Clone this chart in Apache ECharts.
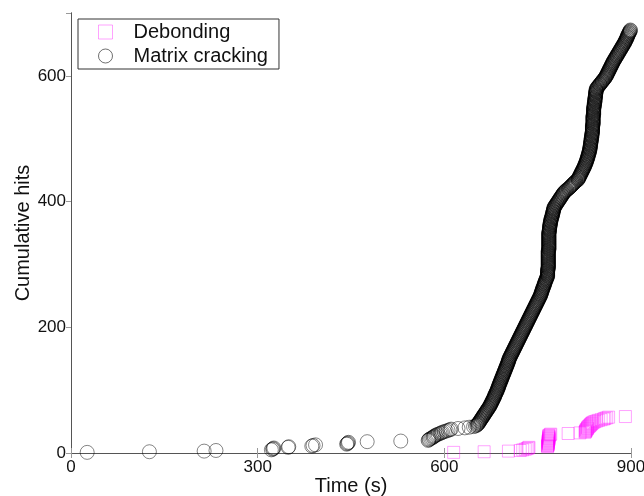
<!DOCTYPE html>
<html>
<head>
<meta charset="utf-8">
<script src="https://cdn.jsdelivr.net/npm/echarts@6/dist/echarts.min.js"></script>
<style>
html,body{margin:0;padding:0;background:#fff;}
#c{width:644px;height:496px;}
</style>
</head>
<body>
<div id="c"></div>
<script>
// Series names
var seriesNames = ['Debonding', 'Matrix cracking'];
// Axis tick labels
var xTicks = [0, 300, 600, 900];
var yTicks = [0, 200, 400, 600];

// Debonding: time (s) of each hit, in order (hit n has cumulative count n)
var debondingTimes = [
  615,664,703,722,726,730,733,735,736,
  766,766,766,767,767,767,767,767,767,767,767,768,768,768,768,768,768,768,768,
  770,771,799,818,
  826,827,827,828,828,829,830,830,831,832,833,834,835,836,837,838,840,842,845,848,852,856,
  858,861,864,891
];

// Matrix cracking: time (s) of each hit, in order (hit n has cumulative count n)
var matrixTimes = [
  26,126,214,233,322,324,325,326,349,350,
  387,389,393,443,444,445,446,476,530,574,
  575,576,578,580,582,583,584,586,588,590,
  593,595,597,600,603,606,609,611,622,633,
  640,647,650,652,653,
  654,655,655,656,657,657,658,659,659,660,
  661,661,662,663,663,664,665,665,666,667,
  667,668,669,669,670,671,671,672,673,
  673,674,674,675,675,676,676,677,677,678,
  678,679,679,680,680,681,681,681,682,682,
  683,683,684,684,685,685,685,686,686,687,687,687,
  688,688,688,689,689,690,690,690,691,691,
  692,692,692,693,693,694,694,694,695,695,
  696,696,696,697,697,698,698,698,699,699,
  700,700,700,701,701,702,702,702,703,703,703,704,704,704,
  705,705,706,706,707,707,708,708,709,709,
  710,710,711,711,712,712,713,713,714,714,
  715,715,716,716,717,717,718,718,719,719,720,720,
  721,721,722,722,723,723,724,724,725,725,
  726,726,727,727,728,728,729,729,730,730,
  731,731,732,732,733,733,734,734,735,735,
  736,736,737,737,738,738,
  739,739,740,740,741,741,742,742,743,743,
  744,744,745,745,746,746,747,747,748,748,
  749,749,750,750,751,751,752,752,753,753,754,754,
  755,755,755,756,756,756,757,757,757,758,
  758,758,759,759,760,760,760,761,761,761,
  762,762,762,763,763,764,764,764,765,765,766,766,
  766,766,766,766,766,766,766,766,766,766,
  767,767,767,767,767,767,767,767,767,767,
  767,767,767,767,767,767,767,767,767,767,
  767,767,767,767,767,767,767,767,767,767,
  768,768,768,768,768,768,768,768,768,768,
  768,768,768,768,768,768,768,768,768,768,
  768,768,768,768,768,768,768,768,
  768,768,769,769,769,769,769,769,769,769,
  770,770,770,770,770,770,771,771,771,771,
  771,772,772,772,773,773,773,773,774,774,
  774,774,775,775,775,775,776,776,776,776,
  777,777,778,779,779,780,781,781,782,783,
  783,784,785,785,786,787,787,788,789,789,
  790,791,791,792,
  793,794,795,796,797,799,800,801,802,803,
  804,805,806,807,808,809,810,811,812,814,815,
  815,816,816,817,817,818,818,819,819,820,
  820,821,821,822,822,823,823,824,824,825,
  825,826,826,826,827,827,828,828,
  828,829,829,829,830,830,830,831,831,831,
  831,832,832,832,833,833,833,833,834,834,
  834,834,834,834,835,835,835,835,835,835,
  835,836,836,836,836,836,836,836,837,837,
  837,837,837,837,837,838,838,838,
  838,838,838,838,838,838,838,838,838,838,
  839,839,839,839,839,839,839,839,839,839,839,839,839,839,839,839,
  840,840,840,840,840,840,840,840,840,840,
  840,840,840,841,841,841,841,841,841,841,
  842,842,842,842,842,842,842,842,843,843,
  843,843,843,843,843,843,844,844,844,844,844,844,
  845,846,846,847,848,849,850,850,851,852,
  853,854,854,855,856,857,858,858,859,860,
  860,861,861,862,862,863,863,864,864,865,
  865,866,866,867,867,868,868,869,869,870,
  870,871,871,872,872,873,874,874,875,875,876,877,
  877,878,878,879,880,880,881,881,882,883,
  883,884,884,885,886,886,887,887,888,889,
  889,890,890,891,891,892,892,893,893,894,
  894,894,895,895,896,896,897,897,898,898,899,899
];

function cumulative(times) {
  var out = [];
  for (var i = 0; i < times.length; i++) out.push([times[i], i + 1]);
  return out;
}

var FONT = 'Liberation Sans, Arial, Helvetica, sans-serif';
var chart = echarts.init(document.getElementById('c'), null, {renderer: 'canvas'});

chart.setOption({
  animation: false,
  backgroundColor: '#fff',
  grid: {left: 71, right: 13, top: 13, bottom: 43, containLabel: false, outerBoundsMode: 'none'},
  legend: {
    orient: 'vertical',
    left: 78, top: 19,
    padding: [1, 11, 1, 20],
    itemGap: 0,
    itemWidth: 14,
    itemHeight: 14,
    backgroundColor: '#fff',
    borderColor: '#333',
    borderWidth: 1,
    textStyle: {fontFamily: FONT, fontSize: 20, color: '#111', lineHeight: 24, padding: [0, 0, 0, 16]},
    data: [
      {name: seriesNames[0], icon: 'rect', itemStyle: {color: 'rgba(0,0,0,0)', borderColor: 'rgba(255,0,255,0.45)', borderWidth: 1}},
      {name: seriesNames[1], icon: 'circle', itemStyle: {color: 'rgba(0,0,0,0)', borderColor: 'rgba(0,0,0,0.7)', borderWidth: 1}}
    ]
  },
  xAxis: [{
    type: 'value', min: xTicks[0], max: xTicks[xTicks.length - 1], interval: 300,
    name: 'Time (s)', nameLocation: 'middle', nameGap: 23, nameMoveOverlap: false,
    nameTextStyle: {fontFamily: FONT, fontSize: 20, color: '#111'},
    axisLine: {show: true, lineStyle: {color: '#555', width: 1}},
    axisTick: {show: true, inside: true, length: 5, lineStyle: {color: '#999'}},
    axisLabel: {fontFamily: FONT, fontSize: 17, color: '#111', margin: 6},
    splitLine: {show: false}
  }, {
    type: 'value', position: 'top', min: 0, max: 900, interval: 300,
    axisLine: {show: true, lineStyle: {color: '#555', width: 1}},
    axisTick: {show: true, inside: true, length: 5, lineStyle: {color: '#999'}},
    axisLabel: {show: false}, splitLine: {show: false}
  }],
  yAxis: [{
    type: 'value', min: yTicks[0], max: 700, interval: 200,
    name: 'Cumulative hits', nameLocation: 'middle', nameGap: 38, nameMoveOverlap: false,
    nameTextStyle: {fontFamily: FONT, fontSize: 20, color: '#111'},
    axisLine: {show: true, lineStyle: {color: '#555', width: 1}},
    axisTick: {show: true, inside: false, length: 3, lineStyle: {color: '#777'}},
    axisLabel: {fontFamily: FONT, fontSize: 17, color: '#111', margin: 5, showMaxLabel: false},
    splitLine: {show: false}
  }, {
    type: 'value', position: 'right', min: 0, max: 700, interval: 200,
    axisLine: {show: true, lineStyle: {color: '#555', width: 1}},
    axisTick: {show: true, inside: true, length: 5, lineStyle: {color: '#999'}},
    axisLabel: {show: false}, splitLine: {show: false}
  }],
  series: [{
    name: seriesNames[0], type: 'scatter', xAxisIndex: 0, yAxisIndex: 0,
    symbol: 'rect', symbolSize: 12, clip: false, large: false,
    itemStyle: {color: 'rgba(0,0,0,0)', borderColor: 'rgba(255,0,255,0.45)', borderWidth: 1},
    emphasis: {disabled: true},
    data: cumulative(debondingTimes)
  }, {
    name: seriesNames[1], type: 'scatter', xAxisIndex: 0, yAxisIndex: 0,
    symbol: 'circle', symbolSize: 14, clip: false, large: false,
    itemStyle: {color: 'rgba(0,0,0,0)', borderColor: 'rgba(0,0,0,0.6)', borderWidth: 1},
    emphasis: {disabled: true},
    data: cumulative(matrixTimes)
  }]
});
</script>
</body>
</html>
